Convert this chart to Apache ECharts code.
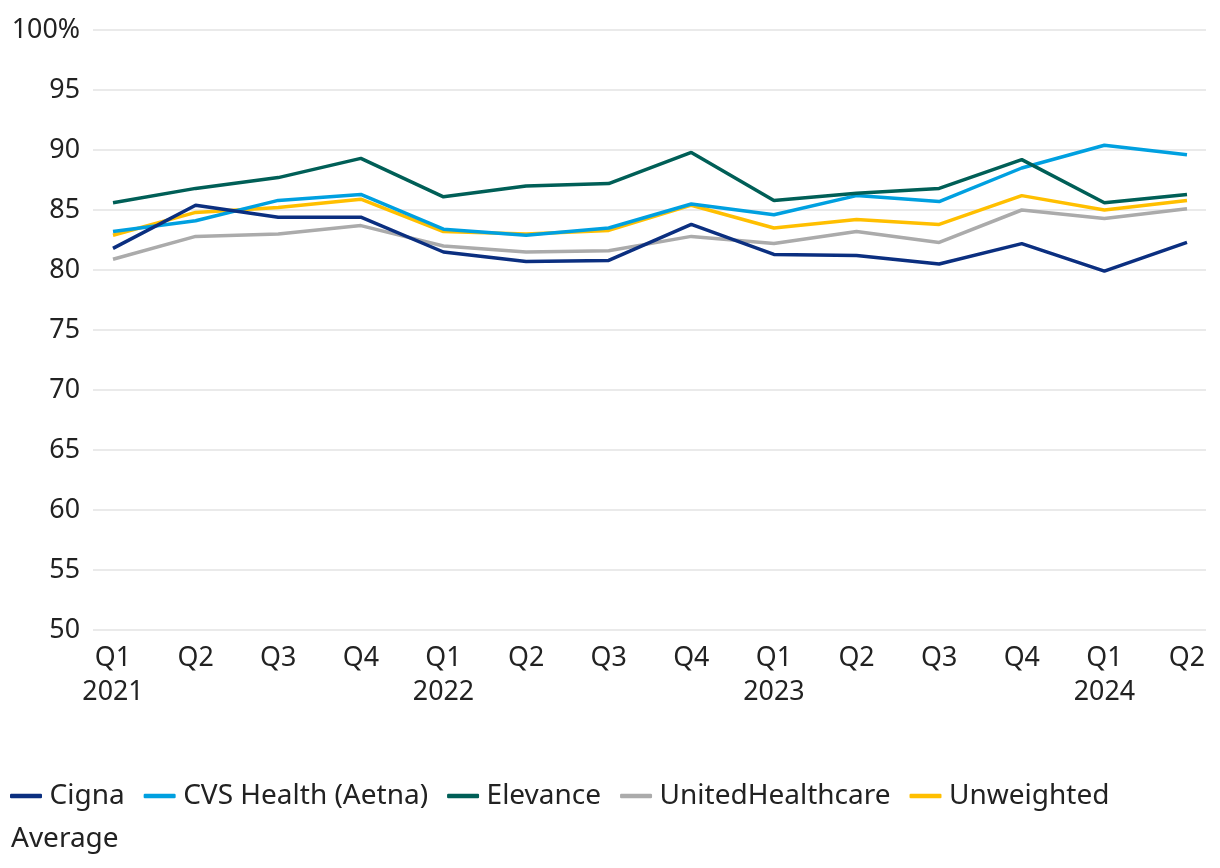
<!DOCTYPE html>
<html>
<head>
<meta charset="utf-8">
<script src="https://cdn.jsdelivr.net/npm/echarts@6/dist/echarts.min.js"></script>
<style>
html,body{margin:0;padding:0;background:#fff;}
#c{width:1220px;height:868px;}
</style>
</head>
<body>
<div id="c"></div>
<script>
const categories = ['Q1\n2021','Q2','Q3','Q4','Q1\n2022','Q2','Q3','Q4','Q1\n2023','Q2','Q3','Q4','Q1\n2024','Q2'];
const cigna      = [81.8, 85.4, 84.4, 84.4, 81.5, 80.7, 80.8, 83.8, 81.3, 81.2, 80.5, 82.2, 79.9, 82.3];
const cvs        = [83.2, 84.1, 85.8, 86.3, 83.4, 82.9, 83.5, 85.5, 84.6, 86.2, 85.7, 88.5, 90.4, 89.6];
const elevance   = [85.6, 86.8, 87.7, 89.3, 86.1, 87.0, 87.2, 89.8, 85.8, 86.4, 86.8, 89.2, 85.6, 86.3];
const uhc        = [80.9, 82.8, 83.0, 83.7, 82.0, 81.5, 81.6, 82.8, 82.2, 83.2, 82.3, 85.0, 84.3, 85.1];
const unweighted = [82.9, 84.8, 85.2, 85.9, 83.2, 83.0, 83.3, 85.4, 83.5, 84.2, 83.8, 86.2, 85.0, 85.8];
const seriesNames = ['Cigna','CVS Health (Aetna)','Elevance','UnitedHealthcare','Unweighted Average'];
const seriesColors = ['#0b2f80','#00a0e0','#005f57','#ababab','#ffbf00'];
const yMin = 50, yMax = 100, yStep = 5;

const chart = echarts.init(document.getElementById('c'), null, {renderer:'canvas'});
const FONT = '"Noto Sans", sans-serif';
const dataSets = [cigna, cvs, elevance, uhc, unweighted];
const drawOrder = [3, 4, 1, 2, 0];

const option = {
  backgroundColor: '#ffffff',
  animation: false,
  textStyle: {fontFamily: FONT},
  grid: [
    {left: 93, right: 14, top: 30, bottom: 238},
    {left: 113, right: 33, top: 30, bottom: 238}
  ],
  xAxis: [
    {gridIndex: 0, type: 'value', min: 0, max: 1, show: false},
    {gridIndex: 1, type: 'category', data: categories, boundaryGap: false,
     axisLine: {show: false}, axisTick: {show: false},
     axisLabel: {color: '#222', fontSize: 26.8, fontFamily: FONT, margin: 11, lineHeight: 34, interval: 0}}
  ],
  yAxis: [
    {gridIndex: 0, type: 'value', min: yMin, max: yMax, interval: yStep,
     axisLine: {show: false}, axisTick: {show: false},
     axisLabel: {color: '#222', fontSize: 26.8, fontFamily: FONT, margin: 13,
                 formatter: v => v === 100 ? '100%' : String(v)},
     splitLine: {lineStyle: {color: '#e3e3e3', width: 1.5}}},
    {gridIndex: 1, type: 'value', min: yMin, max: yMax, interval: yStep, show: false,
     splitLine: {show: false}}
  ],
  legend: {
    left: 10, top: 779, padding: 0,
    icon: 'roundRect',
    itemWidth: 32, itemHeight: 4.5, itemGap: 19,
    data: seriesNames,
    textStyle: {color: '#222', fontSize: 28, lineHeight: 34, fontFamily: FONT, padding: [0,0,0,2.5]},
    formatter: n => n === 'Unweighted Average' ? 'Unweighted' : n
  },
  graphic: [{
    type: 'text', x: 11, y: 839,
    style: {text: 'Average', fill: '#222', font: '28px "Noto Sans", sans-serif', verticalAlign: 'middle', textVerticalAlign: 'middle'}
  }],
  series: drawOrder.map(i => ({
    name: seriesNames[i], type: 'line', xAxisIndex: 1, yAxisIndex: 1,
    data: dataSets[i], symbol: 'none', smooth: false,
    lineStyle: {color: seriesColors[i], width: 3.5},
    itemStyle: {color: seriesColors[i]}
  }))
};
chart.setOption(option);
</script>
</body>
</html>
